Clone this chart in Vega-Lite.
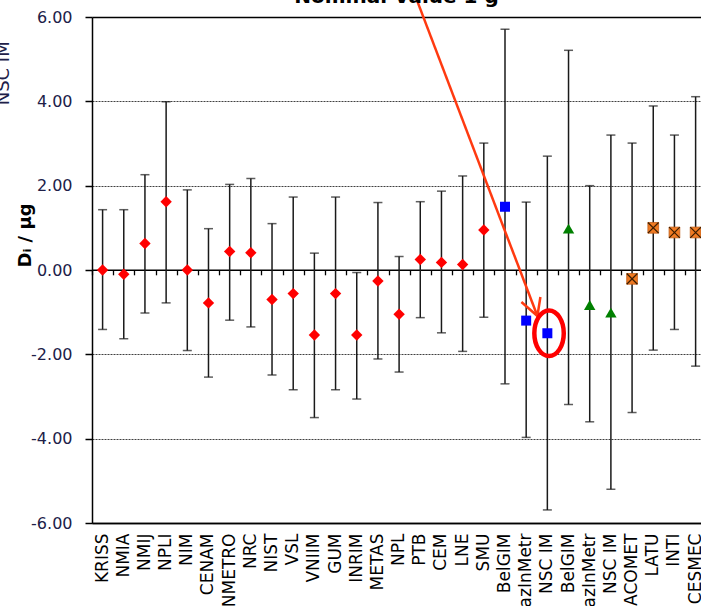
{
  "$schema": "https://vega.github.io/schema/vega-lite/v6.json",
  "width": 609,
  "height": 506,
  "autosize": {"type": "none"},
  "padding": {"left": 92, "top": 17, "right": 0, "bottom": 83},
  "background": "white",
  "title": {
    "text": "Nominal Value 1 g",
    "font": "DejaVu Sans",
    "fontSize": 20,
    "fontWeight": "bold",
    "color": "#000000",
    "anchor": "middle",
    "frame": "group",
    "baseline": "alphabetic",
    "offset": -24
  },
  "config": {"view": {"stroke": null}, "font": "DejaVu Sans"},
  "datasets": {
    "results": [
      {"key": "KRISS|A", "lab": "KRISS", "series": "A", "value": 0.00, "hi": 1.43, "lo": -1.41},
      {"key": "NMIA|A", "lab": "NMIA", "series": "A", "value": -0.10, "hi": 1.43, "lo": -1.63},
      {"key": "NMIJ|A", "lab": "NMIJ", "series": "A", "value": 0.63, "hi": 2.26, "lo": -1.02},
      {"key": "NPLI|A", "lab": "NPLI", "series": "A", "value": 1.62, "hi": 3.99, "lo": -0.78},
      {"key": "NIM|A", "lab": "NIM", "series": "A", "value": 0.00, "hi": 1.90, "lo": -1.91},
      {"key": "CENAM|A", "lab": "CENAM", "series": "A", "value": -0.78, "hi": 0.98, "lo": -2.54},
      {"key": "INMETRO|A", "lab": "INMETRO", "series": "A", "value": 0.44, "hi": 2.03, "lo": -1.19},
      {"key": "NRC|A", "lab": "NRC", "series": "A", "value": 0.41, "hi": 2.17, "lo": -1.35},
      {"key": "NIST|A", "lab": "NIST", "series": "A", "value": -0.70, "hi": 1.10, "lo": -2.49},
      {"key": "VSL|A", "lab": "VSL", "series": "A", "value": -0.56, "hi": 1.73, "lo": -2.84},
      {"key": "VNIIM|A", "lab": "VNIIM", "series": "A", "value": -1.54, "hi": 0.40, "lo": -3.50},
      {"key": "GUM|A", "lab": "GUM", "series": "A", "value": -0.56, "hi": 1.73, "lo": -2.84},
      {"key": "INRIM|A", "lab": "INRIM", "series": "A", "value": -1.54, "hi": -0.06, "lo": -3.06},
      {"key": "METAS|A", "lab": "METAS", "series": "A", "value": -0.26, "hi": 1.60, "lo": -2.11},
      {"key": "NPL|A", "lab": "NPL", "series": "A", "value": -1.05, "hi": 0.32, "lo": -2.42},
      {"key": "PTB|A", "lab": "PTB", "series": "A", "value": 0.25, "hi": 1.62, "lo": -1.13},
      {"key": "CEM|A", "lab": "CEM", "series": "A", "value": 0.18, "hi": 1.87, "lo": -1.49},
      {"key": "LNE|A", "lab": "LNE", "series": "A", "value": 0.13, "hi": 2.23, "lo": -1.93},
      {"key": "SMU|A", "lab": "SMU", "series": "A", "value": 0.95, "hi": 3.01, "lo": -1.12},
      {"key": "BelGIM|B", "lab": "BelGIM", "series": "B", "value": 1.50, "hi": 5.71, "lo": -2.70},
      {"key": "KazInMetr|B", "lab": "KazInMetr", "series": "B", "value": -1.20, "hi": 1.61, "lo": -3.97},
      {"key": "NSC IM|B", "lab": "NSC IM", "series": "B", "value": -1.50, "hi": 2.70, "lo": -5.69},
      {"key": "BelGIM|C", "lab": "BelGIM", "series": "C", "value": 0.98, "hi": 5.21, "lo": -3.19},
      {"key": "KazInMetr|C", "lab": "KazInMetr", "series": "C", "value": -0.83, "hi": 2.00, "lo": -3.60},
      {"key": "NSC IM|C", "lab": "NSC IM", "series": "C", "value": -1.01, "hi": 3.20, "lo": -5.20},
      {"key": "LACOMET|D", "lab": "LACOMET", "series": "D", "value": -0.21, "hi": 3.01, "lo": -3.38},
      {"key": "LATU|D", "lab": "LATU", "series": "D", "value": 1.00, "hi": 3.89, "lo": -1.90},
      {"key": "INTI|D", "lab": "INTI", "series": "D", "value": 0.89, "hi": 3.20, "lo": -1.41},
      {"key": "CESMEC|D", "lab": "CESMEC", "series": "D", "value": 0.89, "hi": 4.11, "lo": -2.28}
    ]
  },
  "data": {"name": "results"},
  "resolve": {"axis": {"x": "independent"}},
  "layer": [
    {
      "mark": {"type": "rule", "color": "#1a1a1a", "strokeWidth": 1.5},
      "encoding": {
        "x": {
          "field": "key",
          "type": "nominal",
          "sort": null,
          "scale": {
            "domain": ["KRISS|A", "NMIA|A", "NMIJ|A", "NPLI|A", "NIM|A", "CENAM|A", "INMETRO|A", "NRC|A", "NIST|A", "VSL|A", "VNIIM|A", "GUM|A", "INRIM|A", "METAS|A", "NPL|A", "PTB|A", "CEM|A", "LNE|A", "SMU|A", "BelGIM|B", "KazInMetr|B", "NSC IM|B", "BelGIM|C", "KazInMetr|C", "NSC IM|C", "LACOMET|D", "LATU|D", "INTI|D", "CESMEC|D"],
            "range": [0, 614.2],
            "paddingInner": 0,
            "paddingOuter": 0
          },
          "axis": {
            "orient": "bottom",
            "title": null,
            "labelExpr": "split(datum.label, '|')[0]",
            "labelAngle": 270,
            "labelAlign": "right",
            "labelBaseline": "middle",
            "labelFont": "DejaVu Sans",
            "labelFontSize": 17,
            "labelColor": "#000000",
            "labelPadding": 10,
            "labelOverlap": false,
            "labelBound": false,
            "ticks": false,
            "domainColor": "#000000",
            "domainWidth": 1.5,
            "grid": false
          }
        },
        "y": {
          "field": "lo",
          "type": "quantitative",
          "scale": {"domain": [-6, 6], "nice": false, "zero": false},
          "axis": {
            "values": [-6, -4, -2, 0, 2, 4, 6],
            "labelExpr": "replace(format(datum.value, '.2f'), '\u2212', '-')",
            "labelFont": "DejaVu Sans",
            "labelFontSize": 16,
            "labelColor": "#202048",
            "labelPadding": 13,
            "tickSize": 7,
            "tickColor": "#000000",
            "tickWidth": 1.5,
            "domainColor": "#000000",
            "domainWidth": 1.5,
            "grid": true,
            "gridColor": {"condition": {"test": "abs(datum.value) == 6", "value": "#000000"}, "value": "#404040"},
            "gridDash": {"condition": {"test": "abs(datum.value) == 6", "value": []}, "value": [2, 1]},
            "gridWidth": {"condition": {"test": "abs(datum.value) == 6", "value": 1.5}, "value": 1},
            "gridOpacity": {"condition": {"test": "datum.value == 0", "value": 0}, "value": 1},
            "title": "Dᵢ / µg",
            "titleFont": "DejaVu Sans",
            "titleFontSize": 18,
            "titleFontWeight": "bold",
            "titleColor": "#000000",
            "titleAngle": 270,
            "titleAlign": "center",
            "titleBaseline": "alphabetic",
            "titleX": -62,
            "titleY": 218
          }
        },
        "y2": {"field": "hi"}
      }
    },
    {
      "mark": {"type": "tick", "color": "#1a1a1a", "size": 9, "thickness": 1.5},
      "encoding": {
        "x": {
          "field": "key",
          "type": "nominal",
          "axis": {
            "orient": "bottom",
            "offset": -253.2,
            "labels": false,
            "grid": false,
            "ticks": true,
            "tickBand": "extent",
            "tickSize": 5,
            "tickColor": "#000000",
            "tickWidth": 1.3,
            "domainColor": "#000000",
            "domainWidth": 1.5,
            "title": "NSC IM",
            "titleFont": "DejaVu Sans",
            "titleFontSize": 18,
            "titleFontWeight": "normal",
            "titleColor": "#202048",
            "titleAngle": 270,
            "titleAlign": "center",
            "titleBaseline": "alphabetic",
            "titleX": -84,
            "titleY": -197
          }
        },
        "y": {"field": "hi", "type": "quantitative"}
      }
    },
    {
      "mark": {"type": "tick", "color": "#1a1a1a", "size": 9, "thickness": 1.5},
      "encoding": {
        "x": {"field": "key", "type": "nominal", "axis": null},
        "y": {"field": "lo", "type": "quantitative"}
      }
    },
    {
      "transform": [{"filter": "datum.series == 'A'"}],
      "mark": {"type": "point", "shape": "diamond", "filled": true, "opacity": 1, "color": "#ff0000", "size": 130},
      "encoding": {
        "x": {"field": "key", "type": "nominal", "axis": null},
        "y": {"field": "value", "type": "quantitative"}
      }
    },
    {
      "transform": [{"filter": "datum.series == 'B'"}],
      "mark": {"type": "point", "shape": "square", "filled": true, "opacity": 1, "color": "#0000ff", "size": 100},
      "encoding": {
        "x": {"field": "key", "type": "nominal", "axis": null},
        "y": {"field": "value", "type": "quantitative"}
      }
    },
    {
      "transform": [{"filter": "datum.series == 'C'"}],
      "mark": {"type": "point", "shape": "triangle-up", "filled": true, "opacity": 1, "color": "#008000", "size": 130},
      "encoding": {
        "x": {"field": "key", "type": "nominal", "axis": null},
        "y": {"field": "value", "type": "quantitative"}
      }
    },
    {
      "transform": [{"filter": "datum.series == 'D'"}],
      "mark": {"type": "point", "shape": "square", "filled": true, "opacity": 1, "fill": "#f07a22", "stroke": "#c0601a", "strokeWidth": 0.8, "size": 115},
      "encoding": {
        "x": {"field": "key", "type": "nominal", "axis": null},
        "y": {"field": "value", "type": "quantitative"}
      }
    },
    {
      "transform": [{"filter": "datum.series == 'D'"}],
      "mark": {"type": "point", "shape": "M-1,-1L1,1M-1,1L1,-1", "filled": false, "opacity": 1, "stroke": "#3b1d00", "strokeWidth": 1.2, "size": 115},
      "encoding": {
        "x": {"field": "key", "type": "nominal", "axis": null},
        "y": {"field": "value", "type": "quantitative"}
      }
    },
    {
      "data": {"values": [{}]},
      "mark": {"type": "rule", "color": "#ff3a10", "strokeWidth": 2.5},
      "encoding": {
        "x": {"datum": "PTB|A", "type": "nominal", "bandPosition": 0.34, "axis": null},
        "x2": {"datum": "NSC IM|B", "bandPosition": 0.03},
        "y": {"datum": 6.4, "type": "quantitative"},
        "y2": {"datum": -1.09}
      }
    },
    {
      "data": {"values": [{}]},
      "mark": {"type": "point", "shape": "M-1.6,-1.4L0,0L0.3,-1.9", "filled": false, "opacity": 1, "stroke": "#ff3a10", "strokeWidth": 2.5, "size": 400},
      "encoding": {
        "x": {"datum": "NSC IM|B", "type": "nominal", "bandPosition": 0.03, "axis": null},
        "y": {"datum": -1.09, "type": "quantitative"}
      }
    },
    {
      "data": {"values": [{}]},
      "mark": {"type": "point", "shape": "M-0.64,0A0.64,0.99,0,1,0,0.64,0A0.64,0.99,0,1,0,-0.64,0Z", "filled": false, "opacity": 1, "stroke": "#ff0000", "strokeWidth": 4.5, "size": 2116},
      "encoding": {
        "x": {"datum": "NSC IM|B", "type": "nominal", "bandPosition": 0.58, "axis": null},
        "y": {"datum": -1.50, "type": "quantitative"}
      }
    }
  ]
}
